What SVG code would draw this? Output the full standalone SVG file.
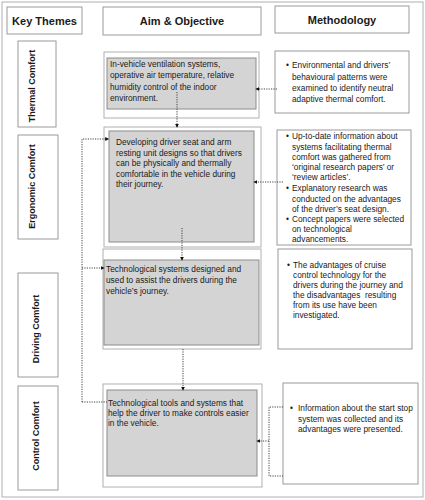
<svg xmlns="http://www.w3.org/2000/svg" width="425" height="500" viewBox="0 0 425 500">
<style>
text{font-family:"Liberation Sans",Arial,sans-serif;fill:#1a1a1a}
.h{font-size:11px;font-weight:bold;text-anchor:middle}
.v{font-size:9px;font-weight:bold;text-anchor:middle}
.t{font-size:8.3px}
.box{fill:#fff;stroke:#9a9a9a;stroke-width:1}
.outer{fill:#fff;stroke:#b0b0b0;stroke-width:1}
.gray{fill:#d4d4d4;stroke:#8c8c8c;stroke-width:1}
.c{fill:none;stroke:#444;stroke-width:1;stroke-dasharray:1.2 1.2}
</style>
<defs>
<marker id="ah" viewBox="0 0 6 6" refX="5" refY="3" markerWidth="4" markerHeight="4" orient="auto" markerUnits="userSpaceOnUse">
<path d="M0,0 L6,3 L0,6 z" fill="#111"/>
</marker>
</defs>
<rect x="2" y="2" width="421" height="495" fill="#fff" stroke="#b0b0b0"/>

<g id="hdr-key"><rect class="box" x="7" y="7" width="75" height="27"/><text class="h" x="44.5" y="24.5">Key Themes</text></g>
<g id="hdr-aim"><rect class="box" x="103" y="7" width="158" height="28"/><text class="h" x="182" y="25">Aim &amp; Objective</text></g>
<g id="hdr-meth"><rect class="box" x="275" y="6" width="134" height="27"/><text class="h" x="342" y="23.5">Methodology</text></g>

<g id="key-thermal"><rect class="box" x="18" y="41" width="38" height="86"/><text class="v" transform="translate(35,86) rotate(-90)">Thermal Comfort</text></g>
<g id="key-ergonomic"><rect class="box" x="18" y="135" width="40" height="104"/><text class="v" transform="translate(35,186.5) rotate(-90)">Ergonomic Comfort</text></g>
<g id="key-driving"><rect class="box" x="18" y="273" width="40" height="104"/><text class="v" transform="translate(39,329) rotate(-90)">Driving Comfort</text></g>
<g id="key-control"><rect class="box" x="18" y="386" width="40" height="104"/><text class="v" transform="translate(39,436) rotate(-90)">Control Comfort</text></g>

<g id="aim-thermal">
<rect class="outer" x="104" y="52" width="155" height="66"/>
<rect class="gray" x="107" y="58" width="149" height="51"/>
<text class="t" x="110" y="67">In-vehicle ventilation systems,</text>
<text class="t" x="110" y="78.3">operative air temperature, relative</text>
<text class="t" x="110" y="89.6">humidity control of the indoor</text>
<text class="t" x="110" y="101">environment.</text>
</g>
<g id="aim-ergonomic">
<rect class="outer" x="104" y="127" width="157" height="120"/>
<rect class="gray" x="109" y="131" width="145" height="111"/>
<text class="t" x="116" y="145">Developing driver seat and arm</text>
<text class="t" x="116" y="155.5">resting unit designs so that drivers</text>
<text class="t" x="116" y="166">can be physically and thermally</text>
<text class="t" x="116" y="176.5">comfortable in the vehicle during</text>
<text class="t" x="116" y="187">their journey.</text>
</g>
<g id="aim-driving">
<rect class="outer" x="103" y="249" width="158" height="100"/>
<rect class="gray" x="104" y="260" width="155" height="85"/>
<text class="t" x="106" y="272.3">Technological systems designed and</text>
<text class="t" x="106" y="283.3">used to assist the drivers during the</text>
<text class="t" x="106" y="294">vehicle’s journey.</text>
</g>
<g id="aim-control">
<rect class="outer" x="103" y="384" width="159" height="103"/>
<rect class="gray" x="107" y="390" width="150" height="86"/>
<text class="t" x="108" y="405.7">Technological tools and systems that</text>
<text class="t" x="108" y="416">help the driver to make controls easier</text>
<text class="t" x="108" y="426">in the vehicle.</text>
</g>

<g id="meth-thermal">
<rect class="box" x="275" y="51" width="134" height="62"/>
<text class="t" x="286" y="68">•</text>
<text class="t" x="292" y="68">Environmental and drivers’</text>
<text class="t" x="292" y="79.5">behavioural patterns were</text>
<text class="t" x="292" y="91">examined to identify neutral</text>
<text class="t" x="292" y="102">adaptive thermal comfort.</text>
</g>
<g id="meth-ergonomic">
<rect class="box" x="277" y="130" width="134" height="115"/>
<text class="t" x="286" y="139">•</text>
<text class="t" x="292" y="139">Up-to-date information about</text>
<text class="t" x="292" y="149.7">systems facilitating thermal</text>
<text class="t" x="292" y="160.3">comfort was gathered from</text>
<text class="t" x="292" y="170.3">‘original research papers’ or</text>
<text class="t" x="292" y="180.3">‘review articles’.</text>
<text class="t" x="286" y="191.3">•</text>
<text class="t" x="292" y="191.3">Explanatory research was</text>
<text class="t" x="292" y="202">conducted on the advantages</text>
<text class="t" x="292" y="211.5">of the driver’s seat design.</text>
<text class="t" x="286" y="222">•</text>
<text class="t" x="292" y="222">Concept papers were selected</text>
<text class="t" x="292" y="232">on technological</text>
<text class="t" x="292" y="241.5">advancements.</text>
</g>
<g id="meth-driving">
<rect class="box" x="278" y="249" width="134" height="100"/>
<text class="t" x="287" y="268">•</text>
<text class="t" x="293" y="268">The advantages of cruise</text>
<text class="t" x="293" y="278">control technology for the</text>
<text class="t" x="293" y="288">drivers during the journey and</text>
<text class="t" x="293" y="298" xml:space="preserve">the disadvantages  resulting</text>
<text class="t" x="293" y="308">from its use have been</text>
<text class="t" x="293" y="318">investigated.</text>
</g>
<g id="meth-control">
<rect class="box" x="283" y="383" width="135" height="101"/>
<text class="t" x="290" y="411.3">•</text>
<text class="t" x="298" y="411.3">Information about the start stop</text>
<text class="t" x="298" y="421.5">system was collected and its</text>
<text class="t" x="298" y="432">advantages were presented.</text>
</g>

<g id="connectors">
<path class="c" d="M277,89 H256" marker-end="url(#ah)"/>
<path class="c" d="M177,92 V127" marker-end="url(#ah)"/>
<path class="c" d="M283,182 H254" marker-end="url(#ah)"/>
<path class="c" d="M182,228 V260" marker-end="url(#ah)"/>
<path class="c" d="M82,402 V139 H108.5" marker-end="url(#ah)"/>
<path class="c" d="M82,268 H104" marker-end="url(#ah)"/>
<path class="c" d="M82,402 H107"/>
<path class="c" d="M183,349 V390" marker-end="url(#ah)"/>
<path class="c" d="M283,407 H269 V476 H283"/>
<path class="c" d="M269,441 H257" marker-end="url(#ah)"/>
</g>
</svg>
